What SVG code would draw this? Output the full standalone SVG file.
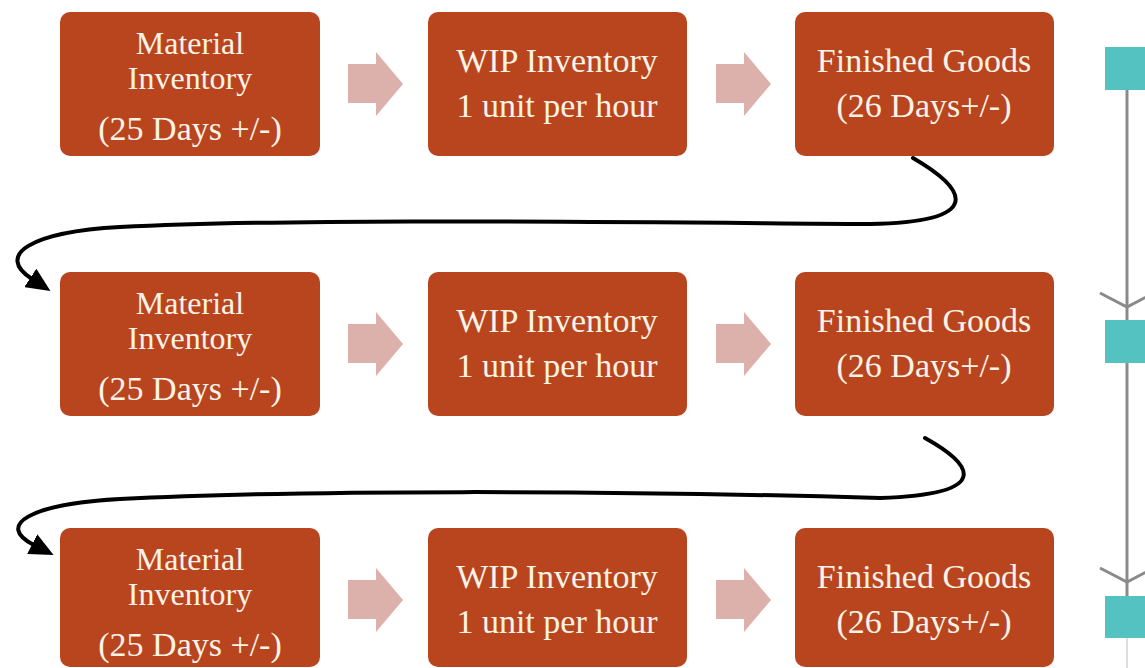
<svg xmlns="http://www.w3.org/2000/svg" width="1145" height="668" viewBox="0 0 1145 668">
  <style>
    .box { fill: #B9451E; }
    .lbl { fill: #FBF3E8; font-family: "Liberation Serif", "Times New Roman", serif; font-size: 34px; text-anchor: middle; }
    .tight { font-size: 32px; }
    .step { fill: #DCB1AC; }
    .flow { fill: none; stroke: #000; stroke-width: 4; stroke-linecap: round; }
    .rail { stroke: #8A8A8A; stroke-width: 3; fill: none; }
    .stop { fill: #55C2C2; }
  </style>
  <defs>
    <marker id="head" viewBox="0 0 24 22" refX="2" refY="11" markerWidth="24" markerHeight="22" markerUnits="userSpaceOnUse" orient="auto">
      <path d="M0,0 L24,11 L0,22 z" fill="#000"/>
    </marker>
  </defs>

  <rect width="1145" height="668" fill="#FFFFFF"/>

  <!-- row 1 -->
  <g id="mat1">
    <rect class="box" x="60" y="12" width="260" height="144" rx="10"/>
    <text class="lbl tight" x="190" y="54">Material</text>
    <text class="lbl tight" x="190" y="89">Inventory</text>
    <text class="lbl" x="190" y="140">(25 Days +/-)</text>
  </g>
  <g id="wip1">
    <rect class="box" x="428" y="12" width="259" height="144" rx="10"/>
    <text class="lbl" x="557" y="72">WIP Inventory</text>
    <text class="lbl" x="557" y="117">1 unit per hour</text>
  </g>
  <g id="fg1">
    <rect class="box" x="795" y="12" width="259" height="144" rx="10"/>
    <text class="lbl" x="924" y="72">Finished Goods</text>
    <text class="lbl" x="924" y="117">(26 Days+/-)</text>
  </g>

  <!-- row 2 -->
  <g id="mat2">
    <rect class="box" x="60" y="272" width="260" height="144" rx="10"/>
    <text class="lbl tight" x="190" y="314">Material</text>
    <text class="lbl tight" x="190" y="349">Inventory</text>
    <text class="lbl" x="190" y="400">(25 Days +/-)</text>
  </g>
  <g id="wip2">
    <rect class="box" x="428" y="272" width="259" height="144" rx="10"/>
    <text class="lbl" x="557" y="332">WIP Inventory</text>
    <text class="lbl" x="557" y="377">1 unit per hour</text>
  </g>
  <g id="fg2">
    <rect class="box" x="795" y="272" width="259" height="144" rx="10"/>
    <text class="lbl" x="924" y="332">Finished Goods</text>
    <text class="lbl" x="924" y="377">(26 Days+/-)</text>
  </g>

  <!-- row 3 -->
  <g id="mat3">
    <rect class="box" x="60" y="528" width="260" height="139" rx="10"/>
    <text class="lbl tight" x="190" y="570">Material</text>
    <text class="lbl tight" x="190" y="605">Inventory</text>
    <text class="lbl" x="190" y="656">(25 Days +/-)</text>
  </g>
  <g id="wip3">
    <rect class="box" x="428" y="528" width="259" height="139" rx="10"/>
    <text class="lbl" x="557" y="588">WIP Inventory</text>
    <text class="lbl" x="557" y="633">1 unit per hour</text>
  </g>
  <g id="fg3">
    <rect class="box" x="795" y="528" width="259" height="139" rx="10"/>
    <text class="lbl" x="924" y="588">Finished Goods</text>
    <text class="lbl" x="924" y="633">(26 Days+/-)</text>
  </g>

  <!-- connectors -->
  <g id="connectors">
    <!-- block arrows between stages -->
    <path class="step" d="M348,64 L376,64 L376,52 L403,84 L376,116 L376,103 L348,103 Z"/>
    <path class="step" d="M716,64 L744,64 L744,52 L771,84 L744,116 L744,103 L716,103 Z"/>
    <path class="step" d="M348,324 L376,324 L376,312 L403,344 L376,376 L376,363 L348,363 Z"/>
    <path class="step" d="M716,324 L744,324 L744,312 L771,344 L744,376 L744,363 L716,363 Z"/>
    <path class="step" d="M348,580 L376,580 L376,568 L403,600 L376,632 L376,619 L348,619 Z"/>
    <path class="step" d="M716,580 L744,580 L744,568 L771,600 L744,632 L744,619 L716,619 Z"/>

    <!-- wrap-around flows to the next row -->
    <path class="flow" marker-end="url(#head)" d="M913,158 C968,190 985,222 870,224 C600,222 300,218 120,227 C30,232 -5,255 32,279"/>
    <path class="flow" marker-end="url(#head)" d="M925,438 C968,462 1000,494 880,498 C600,490 300,490 120,499 C30,504 -5,525 34,545"/>

    <!-- side rail -->
    <line class="rail" x1="1127" y1="90" x2="1127" y2="320"/>
    <polyline class="rail" points="1100,293 1127,307 1154,293"/>
    <line class="rail" x1="1127" y1="363" x2="1127" y2="596"/>
    <polyline class="rail" points="1100,568 1127,582 1154,568"/>
    <line x1="1127" y1="638" x2="1127" y2="668" stroke="#DDDDDD" stroke-width="2"/>
  </g>

  <g id="stop1"><rect class="stop" x="1105" y="47" width="45" height="43"/></g>
  <g id="stop2"><rect class="stop" x="1105" y="320" width="45" height="43"/></g>
  <g id="stop3"><rect class="stop" x="1105" y="596" width="45" height="42"/></g>
</svg>
